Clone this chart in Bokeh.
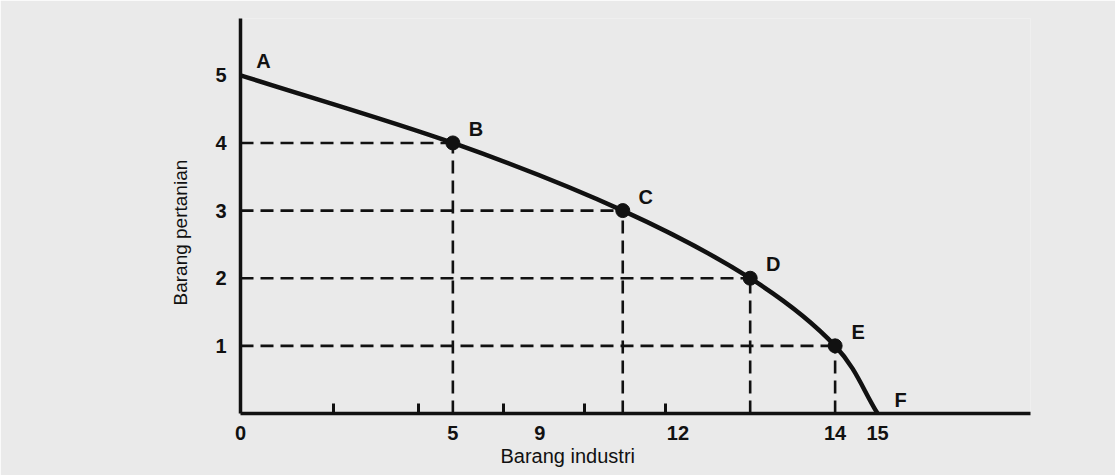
from bokeh.plotting import figure
from bokeh.models import FixedTicker, Range1d, ColumnDataSource, Title
from bokeh.core.properties import value
from bokeh.embed import file_html
from bokeh.resources import INLINE

# Production possibility frontier: industrial vs agricultural goods
industry = [0, 5, 9, 12, 14, 15]
agriculture = [5, 4, 3, 2, 1, 0]
point_names = ["A", "B", "C", "D", "E", "F"]

# Axis ticks as printed on the original figure
x_tick_pos = [0, 5, 7.05, 10.3, 14, 15]
x_tick_text = ["0", "5", "9", "12", "14", "15"]
x_minor_pos = [2.2, 4.2, 6.2, 8.1, 10.0]
y_tick_pos = [1, 2, 3, 4, 5]

PAPER = "#eaeaea"
INK = "#111111"
FONT = "Liberation Sans"

p = figure(width=1115, height=475, output_backend="svg", toolbar_location=None,
           x_range=Range1d(0, 18.6), y_range=Range1d(0, 5.84),
           min_border_left=240, min_border_right=85,
           min_border_top=18, min_border_bottom=62)
p.background_fill_color = PAPER
p.border_fill_color = PAPER
p.outline_line_color = None
p.grid.visible = False

# Axes
xa = p.xaxis[0]
xa.ticker = FixedTicker(ticks=x_tick_pos, minor_ticks=x_minor_pos)
xa.major_label_overrides = {t: s for t, s in zip(x_tick_pos, x_tick_text)}
xa.axis_line_width = 3.5
xa.axis_line_color = INK
xa.major_tick_in = 0
xa.major_tick_out = 0
xa.minor_tick_in = 10
xa.minor_tick_out = 0
xa.minor_tick_line_width = 3
xa.minor_tick_line_color = INK
xa.major_label_text_font = FONT
xa.major_label_text_font_style = "bold"
xa.major_label_text_font_size = "20px"
xa.major_label_text_color = INK
xa.major_label_standoff = 12

ya = p.yaxis[0]
ya.ticker = FixedTicker(ticks=y_tick_pos, minor_ticks=[])
ya.axis_line_width = 3.5
ya.axis_line_color = INK
ya.major_tick_in = 0
ya.major_tick_out = 0
ya.minor_tick_line_color = None
ya.major_label_text_font = FONT
ya.major_label_text_font_style = "bold"
ya.major_label_text_font_size = "20px"
ya.major_label_text_color = INK
ya.major_label_standoff = 14

# Axis titles, placed off-centre as in the printed figure
p.add_layout(Title(text="Barang industri", align="left", offset=260,
                   standoff=0, text_font=FONT, text_font_style="normal",
                   text_font_size="20px", text_color=INK), "below")
p.add_layout(Title(text="Barang pertanian", align="left", offset=108,
                   standoff=44, text_font=FONT, text_font_style="normal",
                   text_font_size="19px", text_color=INK), "left")

# Dashed guide lines from the interior points to both axes
inner = slice(1, 5)
guides = ColumnDataSource(dict(x=industry[inner], y=agriculture[inner]))
p.segment(x0=0, y0="y", x1="x", y1="y", source=guides,
          line_color=INK, line_width=2.6, line_dash="13 7")
p.segment(x0="x", y0=0, x1="x", y1="y", source=guides,
          line_color=INK, line_width=2.6, line_dash="13 7")

# Smooth frontier: Catmull-Rom spline through the points, as cubic Beziers
pts = list(zip(industry, agriculture))
ext = [(2 * pts[0][0] - pts[1][0], 2 * pts[0][1] - pts[1][1])] + pts + \
      [(2 * pts[-1][0] - pts[-2][0], 2 * pts[-1][1] - pts[-2][1])]
bz = dict(x0=[], y0=[], x1=[], y1=[], cx0=[], cy0=[], cx1=[], cy1=[])
for i in range(1, len(ext) - 2):
    p0, p1, p2, p3 = ext[i - 1], ext[i], ext[i + 1], ext[i + 2]
    bz["x0"].append(p1[0]); bz["y0"].append(p1[1])
    bz["x1"].append(p2[0]); bz["y1"].append(p2[1])
    bz["cx0"].append(p1[0] + (p2[0] - p0[0]) / 6)
    bz["cy0"].append(p1[1] + (p2[1] - p0[1]) / 6)
    bz["cx1"].append(p2[0] - (p3[0] - p1[0]) / 6)
    bz["cy1"].append(p2[1] - (p3[1] - p1[1]) / 6)
p.bezier(source=ColumnDataSource(bz), x0="x0", y0="y0", x1="x1", y1="y1",
         cx0="cx0", cy0="cy0", cx1="cx1", cy1="cy1",
         line_color=INK, line_width=4.5, line_cap="round")

# Points on the frontier
p.scatter(industry[inner], agriculture[inner], size=14,
          fill_color=INK, line_color=INK)

# Point letters
p.text(industry, agriculture, text=point_names,
       x_offset=23, y_offset=-14, text_align="center", text_baseline="middle",
       text_font=value(FONT), text_font_style="bold", text_font_size="20px",
       text_color=INK)

open("out.html", "w").write(file_html(p, INLINE))
